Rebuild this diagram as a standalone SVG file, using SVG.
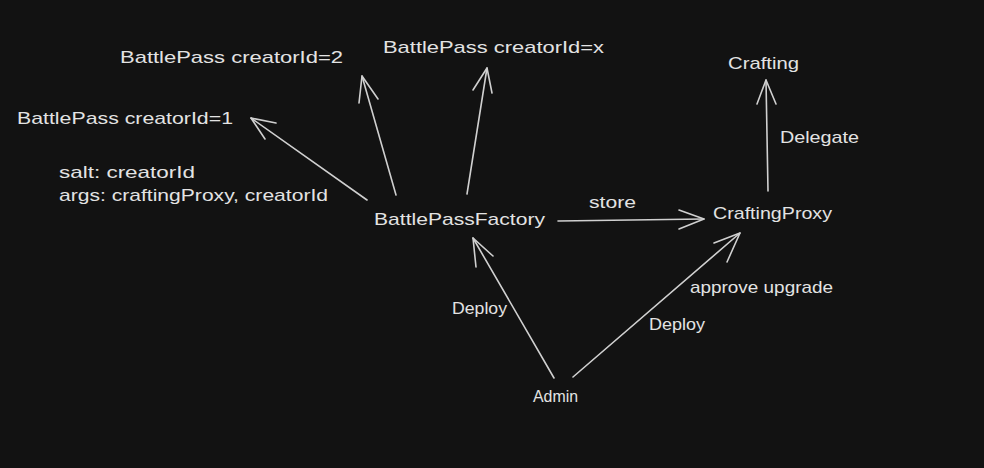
<svg xmlns="http://www.w3.org/2000/svg" width="984" height="468" viewBox="0 0 984 468">
<style>
.t{font-family:"Liberation Sans","DejaVu Sans",sans-serif;font-size:17px;fill:#e3e3e3}
.c line,.c polyline{stroke:#d0d0d0;stroke-width:1.6;fill:none;stroke-linecap:round;stroke-linejoin:round}
</style>
<rect width="984" height="468" fill="#121212"/>
<g class="c" id="connectors">
<line x1="367" y1="200" x2="251" y2="118"/><polyline points="276,123 251,118 265,139"/>
<line x1="396" y1="195" x2="362" y2="76"/><polyline points="359,103 362,76 378,99"/>
<line x1="467" y1="194" x2="487" y2="68"/><polyline points="473,90 487,68 492,93"/>
<line x1="558" y1="221" x2="704" y2="219"/><polyline points="679,210 704,219 679,229"/>
<line x1="768" y1="191" x2="766" y2="80"/><polyline points="757,104 766,80 776,104"/>
<line x1="554" y1="378" x2="473" y2="238"/><polyline points="476,267 473,238 493,256"/>
<line x1="573" y1="377" x2="740" y2="233"/><polyline points="714,243 740,233 727,262"/>
</g>
<g id="bp2"><text class="t" x="120" y="63" textLength="223" lengthAdjust="spacingAndGlyphs">BattlePass creatorId=2</text></g>
<g id="bpx"><text class="t" x="383" y="53" textLength="221" lengthAdjust="spacingAndGlyphs">BattlePass creatorId=x</text></g>
<g id="bp1"><text class="t" x="17" y="124" textLength="216" lengthAdjust="spacingAndGlyphs">BattlePass creatorId=1</text></g>
<g id="note"><text class="t" x="59" y="178" textLength="136" lengthAdjust="spacingAndGlyphs">salt: creatorId</text>
<text class="t" x="59" y="201" textLength="269" lengthAdjust="spacingAndGlyphs">args: craftingProxy, creatorId</text></g>
<g id="factory"><text class="t" x="374" y="225" textLength="171" lengthAdjust="spacingAndGlyphs">BattlePassFactory</text></g>
<g id="store"><text class="t" x="589" y="208" textLength="47" lengthAdjust="spacingAndGlyphs">store</text></g>
<g id="proxy"><text class="t" x="713" y="219" textLength="119" lengthAdjust="spacingAndGlyphs">CraftingProxy</text></g>
<g id="crafting"><text class="t" x="728" y="69" textLength="71" lengthAdjust="spacingAndGlyphs">Crafting</text></g>
<g id="delegate"><text class="t" x="780" y="143" textLength="79" lengthAdjust="spacingAndGlyphs">Delegate</text></g>
<g id="approve"><text class="t" x="690" y="293" textLength="143" lengthAdjust="spacingAndGlyphs">approve upgrade</text></g>
<g id="deploy1"><text class="t" x="452" y="314" textLength="55" lengthAdjust="spacingAndGlyphs">Deploy</text></g>
<g id="deploy2"><text class="t" x="649" y="330" textLength="56" lengthAdjust="spacingAndGlyphs">Deploy</text></g>
<g id="admin"><text class="t" x="533" y="402" textLength="45" lengthAdjust="spacingAndGlyphs">Admin</text></g>
</svg>
